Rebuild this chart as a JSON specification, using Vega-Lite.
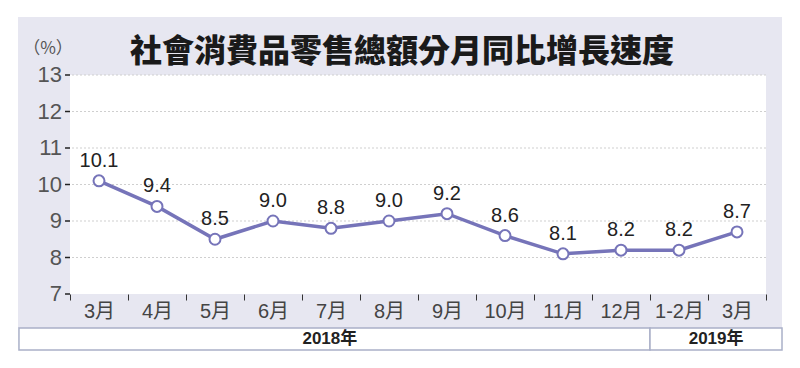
{
  "$schema": "https://vega.github.io/schema/vega-lite/v6.json",
  "width": 696,
  "height": 219,
  "autosize": "none",
  "padding": {"left": 70, "top": 75, "right": 34, "bottom": 74},
  "background": "white",
  "config": {"view": {"stroke": null}},
  "resolve": {"scale": {"x": "independent"}},
  "layer": [
    {
      "data": {"values": [{}]},
      "layer": [
        {
          "mark": {"type": "rect", "fill": "#e7e7f1"},
          "encoding": {
            "x": {"datum": -1.397, "type": "quantitative", "scale": {"domain": [-0.5, 11.5], "nice": false, "zero": false}, "axis": null},
            "x2": {"datum": 11.776},
            "y": {"datum": 14.589, "type": "quantitative", "scale": {"domain": [7, 13], "nice": false, "zero": false}, "axis": null},
            "y2": {"datum": 6.068}
          }
        },
        {
          "mark": {"type": "rect", "fill": "white"},
          "encoding": {
            "x": {"datum": -0.5, "type": "quantitative", "scale": {"domain": [-0.5, 11.5], "nice": false, "zero": false}, "axis": null},
            "x2": {"datum": 11.5},
            "y": {"datum": 13, "type": "quantitative", "scale": {"domain": [7, 13], "nice": false, "zero": false}, "axis": null},
            "y2": {"datum": 7}
          }
        },
        {
          "mark": {"type": "rect", "fill": "white", "stroke": "#aab0c8", "strokeWidth": 1.5},
          "encoding": {
            "x": {"datum": -1.38, "type": "quantitative", "scale": {"domain": [-0.5, 11.5], "nice": false, "zero": false}, "axis": null},
            "x2": {"datum": 9.5},
            "y": {"datum": 6.068, "type": "quantitative", "scale": {"domain": [7, 13], "nice": false, "zero": false}, "axis": null},
            "y2": {"datum": 5.466}
          }
        },
        {
          "mark": {"type": "rect", "fill": "white", "stroke": "#aab0c8", "strokeWidth": 1.5},
          "encoding": {
            "x": {"datum": 9.5, "type": "quantitative", "scale": {"domain": [-0.5, 11.5], "nice": false, "zero": false}, "axis": null},
            "x2": {"datum": 11.776},
            "y": {"datum": 6.068, "type": "quantitative", "scale": {"domain": [7, 13], "nice": false, "zero": false}, "axis": null},
            "y2": {"datum": 5.466}
          }
        },
        {
          "mark": {"type": "text", "font": "'Liberation Sans', 'Noto Sans CJK TC', sans-serif", "fontSize": 17, "fontWeight": "bold", "color": "#222", "baseline": "middle", "align": "center", "text": "2018年"},
          "encoding": {
            "x": {"datum": 3.98, "type": "quantitative", "scale": {"domain": [-0.5, 11.5], "nice": false, "zero": false}, "axis": null},
            "y": {"datum": 5.767, "type": "quantitative", "scale": {"domain": [7, 13], "nice": false, "zero": false}, "axis": null}
          }
        },
        {
          "mark": {"type": "text", "font": "'Liberation Sans', 'Noto Sans CJK TC', sans-serif", "fontSize": 17, "fontWeight": "bold", "color": "#222", "baseline": "middle", "align": "center", "text": "2019年"},
          "encoding": {
            "x": {"datum": 10.64, "type": "quantitative", "scale": {"domain": [-0.5, 11.5], "nice": false, "zero": false}, "axis": null},
            "y": {"datum": 5.767, "type": "quantitative", "scale": {"domain": [7, 13], "nice": false, "zero": false}, "axis": null}
          }
        },
        {
          "mark": {"type": "text", "font": "'Noto Sans CJK TC', sans-serif", "fontSize": 32, "fontWeight": 900, "color": "#1a1a1a", "baseline": "middle", "align": "center", "text": "社會消費品零售總額分月同比增長速度"},
          "encoding": {
            "x": {"datum": 5.224, "type": "quantitative", "scale": {"domain": [-0.5, 11.5], "nice": false, "zero": false}, "axis": null},
            "y": {"datum": 13.63, "type": "quantitative", "scale": {"domain": [7, 13], "nice": false, "zero": false}, "axis": null}
          }
        },
        {
          "mark": {"type": "text", "font": "'Noto Sans CJK TC', sans-serif", "fontSize": 17, "color": "#555", "baseline": "middle", "align": "center", "text": "（%）"},
          "encoding": {
            "x": {"datum": -0.879, "type": "quantitative", "scale": {"domain": [-0.5, 11.5], "nice": false, "zero": false}, "axis": null},
            "y": {"datum": 13.712, "type": "quantitative", "scale": {"domain": [7, 13], "nice": false, "zero": false}, "axis": null}
          }
        },
        {
          "data": {"values": [{"g": 7}, {"g": 8}, {"g": 9}, {"g": 10}, {"g": 11}, {"g": 12}, {"g": 13}]},
          "mark": {"type": "rule", "stroke": "#222", "strokeWidth": 1.5},
          "encoding": {
            "x": {"datum": -0.586, "type": "quantitative", "scale": {"domain": [-0.5, 11.5], "nice": false, "zero": false}, "axis": null},
            "x2": {"datum": -0.5},
            "y": {"field": "g", "type": "quantitative", "scale": {"domain": [7, 13], "nice": false, "zero": false}, "axis": null}
          }
        },
        {
          "data": {"values": [{"g": 7}, {"g": 8}, {"g": 9}, {"g": 10}, {"g": 11}, {"g": 12}, {"g": 13}]},
          "mark": {"type": "text", "font": "'Liberation Sans', sans-serif", "fontSize": 22, "color": "#555", "baseline": "middle", "align": "right", "dx": -8},
          "encoding": {
            "x": {"datum": -0.5, "type": "quantitative", "scale": {"domain": [-0.5, 11.5], "nice": false, "zero": false}, "axis": null},
            "y": {"field": "g", "type": "quantitative", "scale": {"domain": [7, 13], "nice": false, "zero": false}, "axis": null},
            "text": {"field": "g", "type": "quantitative"}
          }
        }
      ]
    },
    {
      "data": {
        "values": [
          {"period": "2018年3月", "value": 10.1},
          {"period": "2018年4月", "value": 9.4},
          {"period": "2018年5月", "value": 8.5},
          {"period": "2018年6月", "value": 9.0},
          {"period": "2018年7月", "value": 8.8},
          {"period": "2018年8月", "value": 9.0},
          {"period": "2018年9月", "value": 9.2},
          {"period": "2018年10月", "value": 8.6},
          {"period": "2018年11月", "value": 8.1},
          {"period": "2018年12月", "value": 8.2},
          {"period": "2019年1-2月", "value": 8.2},
          {"period": "2019年3月", "value": 8.7}
        ]
      },
      "layer": [
        {
          "data": {"values": [{"g": 8}, {"g": 9}, {"g": 10}, {"g": 11}, {"g": 12}, {"g": 13}]},
          "mark": {"type": "rule", "stroke": "#cfcfcf", "strokeWidth": 1, "strokeDash": [2, 2]},
          "encoding": {
            "y": {"field": "g", "type": "quantitative", "scale": {"domain": [7, 13], "nice": false, "zero": false}, "axis": null}
          }
        },
        {
          "mark": {"type": "line", "stroke": "#7674b9", "strokeWidth": 3.5},
          "encoding": {
            "x": {
              "field": "period", "type": "nominal", "sort": null,
              "scale": {"paddingInner": 0, "paddingOuter": 0},
              "axis": {
                "title": null, "orient": "bottom", "domain": false, "grid": false, "zindex": 1,
                "labelExpr": "split(datum.label, '年')[1]",
                "labelAngle": 0,
                "labelFont": "'Liberation Sans', 'Noto Sans CJK TC', sans-serif",
                "labelFontSize": 20, "labelColor": "#444", "labelPadding": 1,
                "tickBand": "extent", "tickSize": 6, "tickColor": "#333", "tickWidth": 1
              }
            },
            "y": {
              "field": "value", "type": "quantitative",
              "scale": {"domain": [7, 13], "nice": false, "zero": false},
              "axis": null
            }
          }
        },
        {
          "mark": {"type": "point", "shape": "circle", "filled": true, "fill": "white", "stroke": "#7674b9", "strokeWidth": 2, "size": 120, "opacity": 1},
          "encoding": {
            "x": {"field": "period", "type": "nominal", "sort": null},
            "y": {"field": "value", "type": "quantitative", "scale": {"domain": [7, 13], "nice": false, "zero": false}, "axis": null}
          }
        },
        {
          "mark": {"type": "text", "font": "'Liberation Sans', sans-serif", "fontSize": 20, "color": "#222", "dy": -20, "baseline": "middle", "align": "center"},
          "encoding": {
            "x": {"field": "period", "type": "nominal", "sort": null},
            "y": {"field": "value", "type": "quantitative", "scale": {"domain": [7, 13], "nice": false, "zero": false}, "axis": null},
            "text": {"field": "value", "type": "quantitative", "format": ".1f"}
          }
        }
      ]
    }
  ]
}
